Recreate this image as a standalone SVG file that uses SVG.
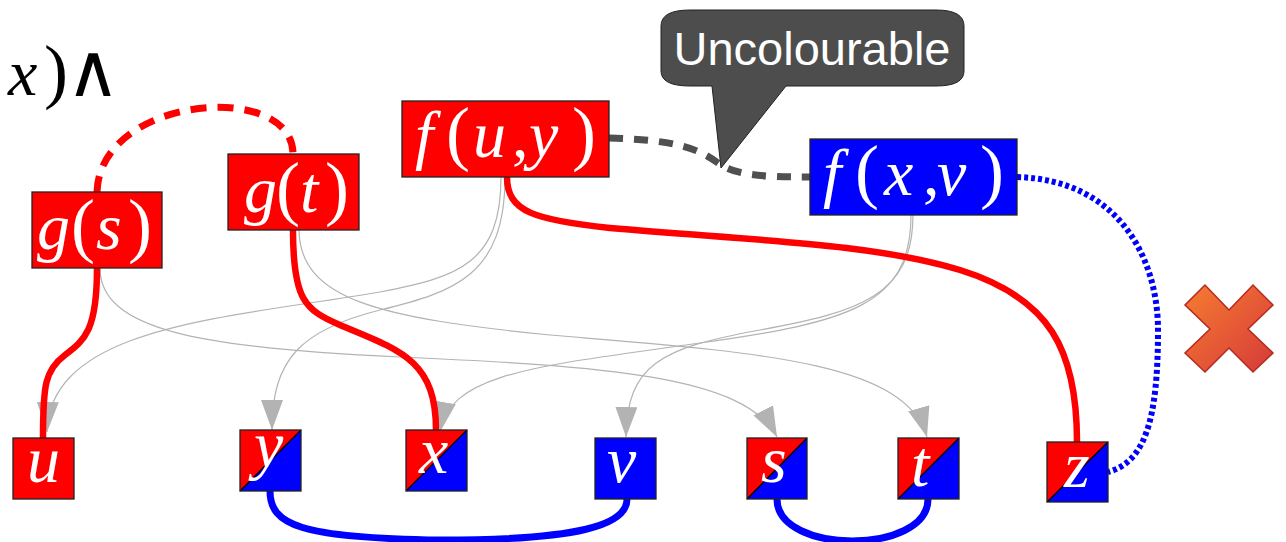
<svg xmlns="http://www.w3.org/2000/svg" width="1286" height="542" viewBox="0 0 1286 542">
<defs>
<style>
.bx{stroke:#222;stroke-width:1.3}
.r{fill:#ff0000}
.b{fill:#0000ff}
.m{font-family:"Liberation Serif","DejaVu Serif",serif;font-size:66px;fill:#fff}
.i{font-style:italic}
.p{font-size:72px;font-style:normal}
.g{fill:none;stroke:#b3b3b3;stroke-width:1.2;marker-end:url(#ah)}
.rs{fill:none;stroke:#ff0000;stroke-width:6.5}
.bs{fill:none;stroke:#0000ff;stroke-width:7}
.dg{stroke:#000;stroke-width:1.3}
</style>
<marker id="ah" markerUnits="userSpaceOnUse" markerWidth="32" markerHeight="24" viewBox="0 0 32 24" refX="30" refY="11" orient="auto">
<path d="M0,0 L30,11 L0,22 Z" fill="#b3b3b3"/>
</marker>
<linearGradient id="xg" x1="0" y1="0" x2="1" y2="1">
<stop offset="0" stop-color="#f67c30"/>
<stop offset="1" stop-color="#d63a3a"/>
</linearGradient>
</defs>
<rect width="1286" height="542" fill="#fff"/>

<g id="formula">
<text y="95" font-family="Liberation Serif, DejaVu Serif, serif" font-size="66" fill="#000"><tspan x="8" font-style="italic">x</tspan><tspan x="44" font-size="72">)</tspan></text>
<text x="66" y="96" font-family="DejaVu Sans, sans-serif" font-size="74" fill="#000">∧</text>
</g>

<g id="connectors">
<path class="g" d="M501,177 C501,262 460,277 380,292 C230,318 50,325 47,432"/>
<path class="g" d="M505,177 C505,275 455,292 380,310 C300,330 272,360 272,430"/>
<path class="g" d="M100,268 C100,330 200,348 400,357 C600,366 745,375 777,437"/>
<path class="g" d="M299,230 C300,300 380,318 550,335 C750,352 905,360 927,437"/>
<path class="g" d="M913,215 C913,295 860,312 760,330 C660,348 627,365 626,437"/>
<path class="g" d="M911,215 C911,305 850,322 700,343 C540,366 450,372 440,432"/>
<path d="M97,192 C100,95 293,80 293,154" fill="none" stroke="#ff0000" stroke-width="7" stroke-dasharray="16 11"/>
<path d="M609,138 C680,140 700,150 718,163 C735,175 760,177 810,177" fill="none" stroke="#505050" stroke-width="7" stroke-dasharray="14 11"/>
<path d="M1017,177 C1120,180 1158,260 1158,330 C1158,420 1145,462 1108,472" fill="none" stroke="#0000ff" stroke-width="6" stroke-dasharray="4 3"/>
<path class="rs" d="M97,268 C97,330 85,340 65,355 C45,370 43,385 43,438"/>
<path class="rs" d="M293,230 C293,300 305,310 340,325 C400,350 436,360 436,430"/>
<path class="rs" d="M507,177 C507,212 535,220 610,228 C760,241 870,243 960,270 C1050,298 1077,350 1077,442"/>
<path class="bs" d="M270,491 C270,525 300,538 440,540 C580,540 627,525 627,499"/>
<path class="bs" d="M777,499 C777,555 928,555 928,499"/>
</g>

<g id="bubble">
<path d="M690,10 H936 Q964,10 964,26 V71 Q964,86 936,86 H786 L721,168 L712,86 H690 Q661,86 661,71 V26 Q661,10 690,10 Z" fill="#4d4d4d" stroke="#222" stroke-width="1"/>
<text x="812" y="65" text-anchor="middle" font-family="Liberation Sans, Arial, sans-serif" font-size="47" fill="#fff">Uncolourable</text>
</g>

<g id="node-gs">
<rect class="bx r" x="32" y="192" width="130" height="76"/>
<text class="m" y="249"><tspan class="i" x="37">g</tspan><tspan class="p" x="71">(</tspan><tspan class="i" x="96">s</tspan><tspan class="p" x="128">)</tspan></text>
</g>
<g id="node-gt">
<rect class="bx r" x="228" y="154" width="131" height="76"/>
<text class="m" y="212"><tspan class="i" x="244">g</tspan><tspan class="p" x="276">(</tspan><tspan class="i" x="300">t</tspan><tspan class="p" x="325">)</tspan></text>
</g>
<g id="node-fuy">
<rect class="bx r" x="402" y="101" width="207" height="76"/>
<text class="m" y="157"><tspan class="i" x="415">f</tspan><tspan class="p" x="446">(</tspan><tspan class="i" x="473">u</tspan><tspan x="512">,</tspan><tspan class="i" x="529">y</tspan><tspan class="p" x="572">)</tspan></text>
</g>
<g id="node-fxv">
<rect class="bx b" x="810" y="139" width="207" height="76"/>
<text class="m" y="195"><tspan class="i" x="823">f</tspan><tspan class="p" x="855">(</tspan><tspan class="i" x="884">x</tspan><tspan x="923">,</tspan><tspan class="i" x="937">v</tspan><tspan class="p" x="980">)</tspan></text>
</g>

<g id="node-u">
<rect class="bx r" x="13" y="438" width="61" height="61"/>
<text class="m i" x="27" y="482">u</text>
</g>
<g id="node-y">
<rect class="b" x="240" y="430" width="61" height="61"/>
<polygon class="r" points="240,430 301,430 240,491"/>
<line class="dg" x1="240" y1="491" x2="301" y2="430"/>
<rect class="bx" x="240" y="430" width="61" height="61" fill="none"/>
<text class="m i" x="254" y="467">y</text>
</g>
<g id="node-x">
<rect class="b" x="406" y="430" width="61" height="61"/>
<polygon class="r" points="406,430 467,430 406,491"/>
<line class="dg" x1="406" y1="491" x2="467" y2="430"/>
<rect class="bx" x="406" y="430" width="61" height="61" fill="none"/>
<text class="m i" x="419" y="473">x</text>
</g>
<g id="node-v">
<rect class="bx b" x="595" y="438" width="61" height="61"/>
<text class="m i" x="607" y="482">v</text>
</g>
<g id="node-s">
<rect class="b" x="747" y="438" width="60" height="61"/>
<polygon class="r" points="747,438 807,438 747,499"/>
<line class="dg" x1="747" y1="499" x2="807" y2="438"/>
<rect class="bx" x="747" y="438" width="60" height="61" fill="none"/>
<text class="m i" x="761" y="482">s</text>
</g>
<g id="node-t">
<rect class="b" x="898" y="438" width="61" height="61"/>
<polygon class="r" points="898,438 959,438 898,499"/>
<line class="dg" x1="898" y1="499" x2="959" y2="438"/>
<rect class="bx" x="898" y="438" width="61" height="61" fill="none"/>
<text class="m i" x="911" y="486">t</text>
</g>
<g id="node-z">
<rect class="b" x="1047" y="442" width="61" height="60"/>
<polygon class="r" points="1047,442 1108,442 1047,502"/>
<line class="dg" x1="1047" y1="502" x2="1108" y2="442"/>
<rect class="bx" x="1047" y="442" width="61" height="60" fill="none"/>
<text class="m i" x="1064" y="487">z</text>
</g>

<g id="cross">
<polygon points="1229,310 1253,285 1273,305 1248,329 1273,353 1253,372 1229,348 1205,372 1185,353 1210,329 1185,305 1205,285" fill="url(#xg)" stroke="#b52a20" stroke-width="1.5" stroke-linejoin="miter"/>
</g>
</svg>
